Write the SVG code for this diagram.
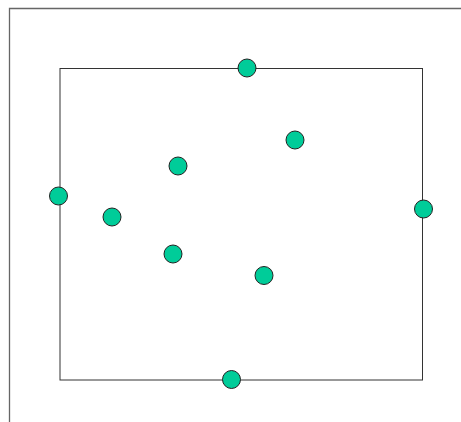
<svg xmlns="http://www.w3.org/2000/svg" width="461" height="422" viewBox="0 0 461 422">
<style>
.ax{stroke:#666;stroke-width:1.3;fill:none}
.box{stroke:#333;stroke-width:1;fill:none}
.pt{fill:#00CC99;stroke:#222;stroke-width:1}
</style>
<rect width="461" height="422" fill="#fff"/>
<g id="connectors">
<path class="ax" d="M9.5,422 V8.5 H461"/>
<rect class="box" x="60" y="68.5" width="362.5" height="311.5"/>
</g>
<g id="p1"><circle class="pt" cx="247" cy="68" r="9"/></g>
<g id="p2"><circle class="pt" cx="295" cy="140" r="9"/></g>
<g id="p3"><circle class="pt" cx="178" cy="166" r="9"/></g>
<g id="p4"><circle class="pt" cx="58.5" cy="196" r="9"/></g>
<g id="p5"><circle class="pt" cx="112" cy="217" r="9"/></g>
<g id="p6"><circle class="pt" cx="423.5" cy="209" r="9"/></g>
<g id="p7"><circle class="pt" cx="173" cy="254" r="9"/></g>
<g id="p8"><circle class="pt" cx="264" cy="275.5" r="9"/></g>
<g id="p9"><circle class="pt" cx="231.5" cy="379.5" r="9"/></g>
</svg>
